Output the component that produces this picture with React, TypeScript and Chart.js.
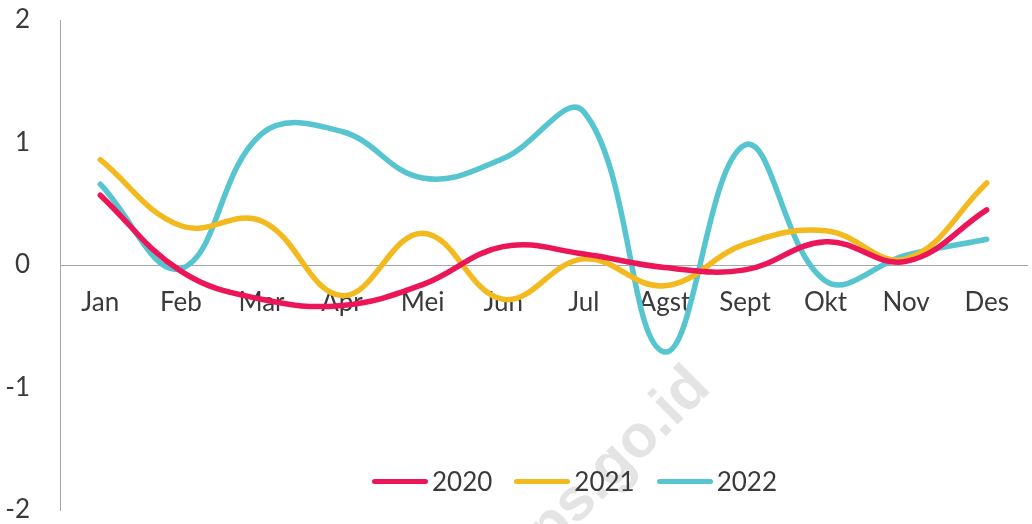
import React, { useEffect, useRef } from "react";
import { Chart, registerables } from "chart.js";

Chart.register(...registerables);

const months = ["Jan", "Feb", "Mar", "Apr", "Mei", "Jun", "Jul", "Agst", "Sept", "Okt", "Nov", "Des"];
const s2020 = [0.57, -0.05, -0.28, -0.33, -0.16, 0.15, 0.09, -0.02, -0.04, 0.19, 0.03, 0.45];
const s2021 = [0.86, 0.32, 0.36, -0.25, 0.26, -0.28, 0.05, -0.17, 0.17, 0.28, 0.05, 0.67];
const s2022 = [0.66, -0.03, 1.07, 1.09, 0.71, 0.87, 1.25, -0.71, 0.98, -0.13, 0.08, 0.21];
const yTicks = [-2, -1, 0, 1, 2];

const seriesNames = ["2020", "2021", "2022"];
const colors = ["#EC1557", "#F2BA1E", "#57C5D0"];
const FONT = "Lato, 'Noto Sans', sans-serif";
const TEXT = "#3a3a3a";

const watermark = {
  id: "watermark",
  beforeDatasetsDraw(chart: any) {
    const ctx = chart.ctx;
    ctx.save();
    ctx.translate(524, 578);
    ctx.rotate(-Math.PI / 4);
    ctx.font = "bold 60px 'Liberation Sans', Arial, sans-serif";
    ctx.fillStyle = "#E4E4E4";
    ctx.textAlign = "left";
    ctx.textBaseline = "alphabetic";
    ctx.fillText("bps.go.id", 0, 0);
    ctx.restore();
  },
};

export default function App() {
  const ref = useRef<HTMLCanvasElement | null>(null);
  useEffect(() => {
    if (!ref.current) return;
    const data = [s2020, s2021, s2022];
    const chart = new Chart(ref.current, {
      type: "line",
      data: {
        labels: months,
        datasets: data.map((d, i) => ({
          label: seriesNames[i],
          data: d,
          borderColor: colors[i],
          backgroundColor: colors[i],
          borderWidth: 5.5,
          pointRadius: 0,
          tension: 0.4,
          borderCapStyle: "round" as const,
          borderJoinStyle: "round" as const,
          fill: false,
        })),
      },
      options: {
        animation: false,
        responsive: false,
        maintainAspectRatio: false,
        layout: { padding: { left: 0, right: 5, top: 20, bottom: 14 } },
        plugins: {
          legend: { display: false },
          tooltip: { enabled: false },
        },
        scales: {
          x: {
            type: "category",
            position: { y: 0 } as any,
            offset: true,
            afterFit: (s: any) => { s.height = 0; s.paddingLeft = 0; s.paddingRight = 0; s.paddingTop = 0; s.paddingBottom = 0; },
            grid: { display: false, drawTicks: false },
            border: { display: true, color: "#A6A6A6", width: 1 },
            ticks: { color: TEXT, font: { family: FONT, size: 26 }, padding: 22, maxRotation: 0, autoSkip: false },
          },
          y: {
            min: -2,
            max: 2,
            afterFit: (s: any) => { s.width = 60; s.paddingTop = 0; s.paddingBottom = 0; },
            afterBuildTicks: (s: any) => { s.ticks = yTicks.map((v) => ({ value: v })); },
            grid: { display: false, drawTicks: false },
            border: { display: true, color: "#A6A6A6", width: 1 },
            ticks: { color: TEXT, font: { family: FONT, size: 26 }, padding: 30 },
          },
        },
      },
      plugins: [watermark],
    });
    return () => chart.destroy();
  }, []);

  return (
    <div style={{ position: "fixed", left: 0, top: 0, width: 1032, height: 524, background: "#fff", fontFamily: FONT }}>
      <canvas ref={ref} width={1032} height={524} style={{ position: "absolute", left: 0, top: 0 }} />
      <div style={{ position: "absolute", left: 372, top: 466, height: 30, display: "flex", alignItems: "center" }}>
        {seriesNames.map((n, i) => (
          <div key={n} style={{ display: "flex", alignItems: "center", marginRight: i < 2 ? 22 : 0 }}>
            <div style={{ width: 56, height: 5, borderRadius: 3, background: colors[i], marginRight: 4 }} />
            <span style={{ fontSize: 26, color: TEXT, lineHeight: "30px" }}>{n}</span>
          </div>
        ))}
      </div>
    </div>
  );
}
